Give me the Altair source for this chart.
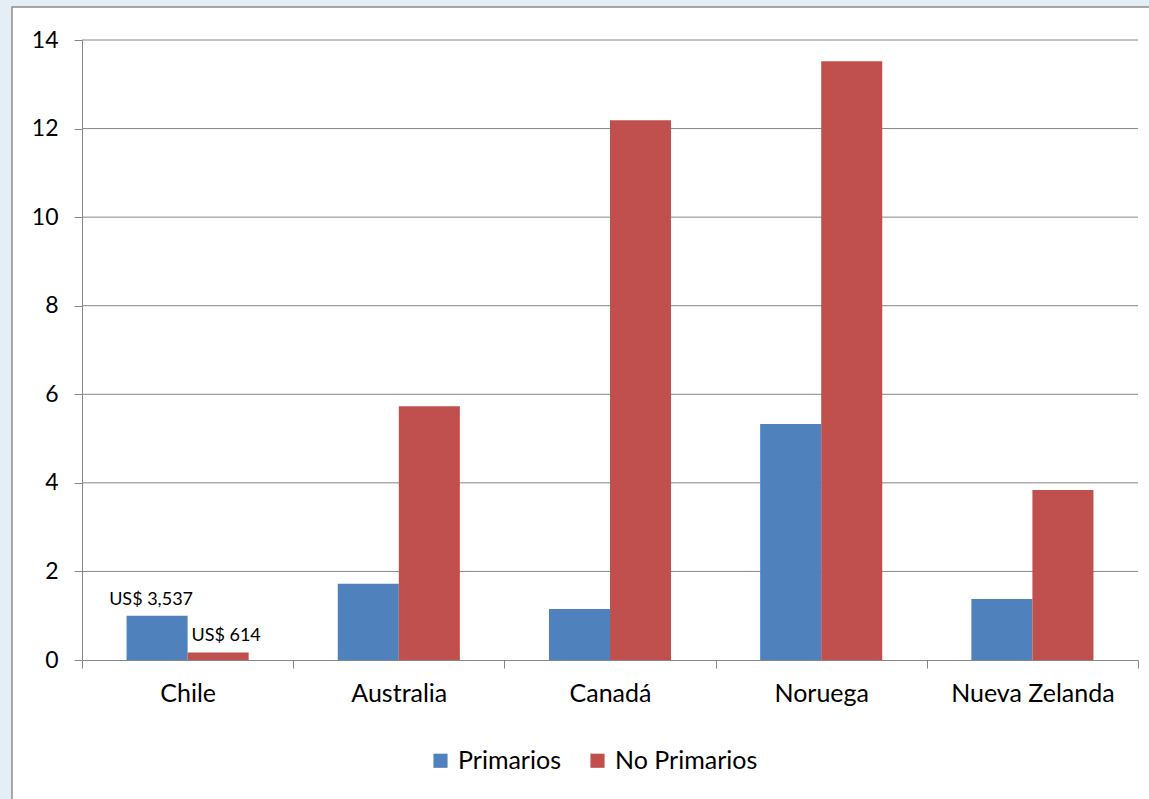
import altair as alt
import pandas as pd

countries = ["Chile", "Australia", "Canadá", "Noruega", "Nueva Zelanda"]
series = ["Primarios", "No Primarios"]
primarios = [1.0, 1.72, 1.15, 5.33, 1.38]
no_primarios = [0.17, 5.73, 12.19, 13.52, 3.84]
labels_primarios = ["US$ 3,537", "", "", "", ""]
labels_no_primarios = ["US$ 614", "", "", "", ""]
y_ticks = [0, 2, 4, 6, 8, 10, 12, 14]
colors = ["#4F81BD", "#C0504D"]

rows = []
for i, c in enumerate(countries):
    rows.append({"pais": c, "serie": series[0], "valor": primarios[i], "etiqueta": labels_primarios[i]})
    rows.append({"pais": c, "serie": series[1], "valor": no_primarios[i], "etiqueta": labels_no_primarios[i]})
df = pd.DataFrame(rows)
grid_df = pd.DataFrame({"v": y_ticks[1:]})

FONT = "Lato"
W, H = 1056, 620

yscale = alt.Scale(domain=[0, 14], nice=False)
xenc = alt.X("pais:N", sort=countries,
             scale=alt.Scale(paddingInner=0, paddingOuter=0),
             axis=alt.Axis(title=None, labelAngle=0, labelFontSize=25, labelFont=FONT,
                           labelColor="#000000", tickBand="extent", tickSize=8,
                           tickColor="#868686", domainColor="#868686", labelPadding=13,
                           grid=False, zindex=1))
xoff = alt.XOffset("serie:N", sort=series,
                   scale=alt.Scale(paddingInner=0, paddingOuter=0.73))

frame = alt.Chart(pd.DataFrame({"a": [0]})).mark_rect(
    fill="white", stroke="#8c8c8c", strokeWidth=1.5
).encode(x=alt.value(-70), x2=alt.value(1080), y=alt.value(-33), y2=alt.value(775))

grid = alt.Chart(grid_df).mark_rule(color="#868686", strokeWidth=1).encode(
    y=alt.Y("v:Q", scale=yscale),
    x=alt.value(0), x2=alt.value(W)
)

bars = alt.Chart(df).mark_bar().encode(
    x=xenc,
    xOffset=xoff,
    y=alt.Y("valor:Q", scale=yscale,
            axis=alt.Axis(title=None, values=y_ticks, grid=False, labelFontSize=23,
                          labelFont=FONT, labelColor="#000000", tickSize=8,
                          tickColor="#868686", domainColor="#868686", labelPadding=16,
                          zindex=1)),
    color=alt.Color("serie:N", sort=series,
                    scale=alt.Scale(domain=series, range=colors),
                    legend=alt.Legend(title=None, orient="none", direction="horizontal",
                                      legendX=346, legendY=708, symbolType="square",
                                      symbolSize=200, symbolStrokeWidth=0,
                                      labelFontSize=25, labelFont=FONT, labelColor="#000000",
                                      columnPadding=24, labelOffset=5))
)


def label_layer(serie_name, dx):
    return alt.Chart(df).transform_filter(
        (alt.datum.etiqueta != "") & (alt.datum.serie == serie_name)
    ).mark_text(
        baseline="bottom", fontSize=18, font=FONT, color="#000000", dy=-7, dx=dx
    ).encode(
        x=alt.X("pais:N", sort=countries),
        xOffset=xoff,
        y=alt.Y("valor:Q", scale=yscale),
        text="etiqueta:N",
    )


texts1 = label_layer("Primarios", -6)
texts2 = label_layer("No Primarios", 8)

chart = alt.layer(frame, grid, bars, texts1, texts2).properties(
    width=W, height=H,
    autosize=alt.AutoSizeParams(type="none"),
    padding={"left": 82, "top": 40, "right": 11, "bottom": 139},
    background="#e6eef5",
).configure_view(stroke=None, fill=None)

chart.save("out.html", embed_options={"renderer": "svg", "actions": False})
